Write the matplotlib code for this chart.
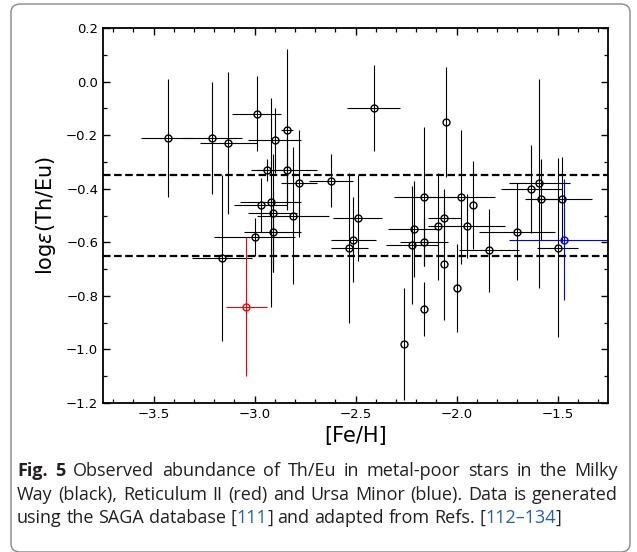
import numpy as np
import matplotlib
matplotlib.use('Agg')
import matplotlib.pyplot as plt
from matplotlib.patches import FancyBboxPatch

# Milky Way stars
feh = [-3.43, -3.21, -3.13, -3.16, -3.00, -2.99, -2.90, -2.84, -2.94, -2.84,
       -2.78, -2.97, -2.92, -2.91, -2.81, -2.91, -2.62, -2.41, -2.49, -2.51,
       -2.53, -2.26, -2.21, -2.22, -2.16, -2.16, -2.16, -2.09, -2.06, -2.06,
       -2.05, -2.00, -1.98, -1.95, -1.92, -1.84, -1.70, -1.63, -1.59, -1.58,
       -1.50, -1.48]
th_eu = [-0.21, -0.21, -0.23, -0.66, -0.58, -0.12, -0.22, -0.18, -0.33, -0.33,
         -0.38, -0.46, -0.45, -0.49, -0.50, -0.56, -0.37, -0.10, -0.51, -0.59,
         -0.62, -0.98, -0.55, -0.61, -0.43, -0.60, -0.85, -0.54, -0.51, -0.68,
         -0.15, -0.77, -0.43, -0.54, -0.46, -0.63, -0.56, -0.40, -0.38, -0.44,
         -0.62, -0.44]
feh_err = [0.13, 0.15, 0.14, 0.15, 0.20, 0.12, 0.13, 0.03, 0.075, 0.15,
           0.09, 0.13, 0.15, 0.12, 0.18, 0.14, 0.11, 0.13, 0.12, 0.11,
           0.09, 0.0, 0.13, 0.13, 0.15, 0.12, 0.0, 0.0, 0.08, 0.0,
           0.0, 0.0, 0.17, 0.19, 0.0, 0.15, 0.19, 0.15, 0.15, 0.08,
           0.10, 0.15]
th_eu_err = [0.22, 0.21, 0.265, 0.31, 0.07, 0.14, 0.12, 0.30, 0.04, 0.12,
             0.20, 0.10, 0.39, 0.22, 0.255, 0.15, 0.10, 0.16, 0.16, 0.16,
             0.28, 0.21, 0.18, 0.22, 0.26, 0.09, 0.10, 0.20, 0.11, 0.21,
             0.205, 0.165, 0.25, 0.12, 0.165, 0.155, 0.18, 0.165, 0.39, 0.15,
             0.335, 0.16]

# Reticulum II
ret_feh, ret_th, ret_feh_err, ret_th_err = [-3.04], [-0.84], [0.10], [0.26]
# Ursa Minor
umi_feh, umi_th, umi_feh_err, umi_th_err = [-1.47], [-0.59], [0.27], [0.225]

fig = plt.figure(figsize=(6.37, 5.52), dpi=100)
ax = fig.add_axes([0.1617, 0.2699, 0.7928, 0.6794])

ekw = dict(fmt='o', ms=5, mfc='none', mew=1.0, elinewidth=0.8, capsize=0)
ax.errorbar(feh, th_eu, xerr=feh_err, yerr=th_eu_err, color='black', mec='black', **ekw)
ax.errorbar(ret_feh, ret_th, xerr=ret_feh_err, yerr=ret_th_err, color='red', mec='red', **ekw)
ax.errorbar(umi_feh, umi_th, xerr=umi_feh_err, yerr=umi_th_err, color='blue', mec='blue', **ekw)

for yl in [-0.35, -0.65]:
    ax.axhline(yl, color='black', lw=1.6, ls=(0, (3.4, 1.6)))

ax.set_xlim(-3.75, -1.25)
ax.set_ylim(-1.2, 0.2)
ax.set_xticks([-3.5, -3.0, -2.5, -2.0, -1.5])
ax.set_xticks(np.arange(-3.7, -1.25, 0.1), minor=True)
ax.set_yticks(np.arange(-1.2, 0.21, 0.2))
ax.set_yticks(np.arange(-1.2, 0.21, 0.1), minor=True)
ax.tick_params(which='both', direction='in', top=True, right=True, labelsize=9.5)
ax.tick_params(which='major', length=5, width=1.0)
ax.tick_params(which='minor', length=3, width=0.9)
for s in ax.spines.values():
    s.set_linewidth(1.3)
ax.set_xlabel('[Fe/H]', fontsize=15, labelpad=4)
ax.set_ylabel(r'log$\epsilon$(Th/Eu)', fontsize=15, labelpad=6)

# rounded frame around figure + caption
box = FancyBboxPatch((11 / 637, 0.0), 619 / 637, 548 / 552, transform=fig.transFigure,
                     boxstyle='round,pad=0,rounding_size=0.015', fc='none', ec='#888888', lw=1.0)
fig.patches.append(box)

cap_col = '#231f20'
link_col = '#1f5fbf'
lines = [
    [('Fig. 5', cap_col, 'bold'), (' Observed abundance of Th/Eu in metal-poor stars in the Milky', cap_col, 'normal')],
    [('Way (black), Reticulum II (red) and Ursa Minor (blue). Data is generated', cap_col, 'normal')],
    [('using the SAGA database [', cap_col, 'normal'), ('111', link_col, 'normal'),
     ('] and adapted from Refs. [', cap_col, 'normal'), ('112\u2013134', link_col, 'normal'),
     (']', cap_col, 'normal')],
]
justify = [True, True, False]
ys = [471, 495, 518]
fsize = 13
renderer = fig.canvas.get_renderer()


def split_words(parts):
    words, cur = [], []
    for s, c, w in parts:
        for i, p in enumerate(s.split(' ')):
            if i > 0 and cur:
                words.append(cur)
                cur = []
            if p:
                cur.append((p, c, w))
    if cur:
        words.append(cur)
    return words


def make(s, c, w, x, y):
    return fig.text(x, y, s, color=c, fontweight=w, fontsize=fsize,
                    family='Open Sans', va='center', ha='left')


probe1 = make('a a', 'k', 'normal', 0, 0)
probe2 = make('aa', 'k', 'normal', 0, 0)
space = (probe1.get_window_extent(renderer).width - probe2.get_window_extent(renderer).width)
probe1.remove()
probe2.remove()

left, right = 17, 618
for parts, ypx, just in zip(lines, ys, justify):
    y = 1 - ypx / 552
    words = split_words(parts)
    texts = []
    total = 0
    for word in words:
        wt = []
        for s, c, w in word:
            t = make(s, c, w, 0, y)
            wd = t.get_window_extent(renderer).width
            wt.append((t, wd))
            total += wd
        texts.append(wt)
    gap = (right - left - total) / (len(words) - 1) if just else space
    x = left
    for wt in texts:
        for t, wd in wt:
            t.set_x(x / 637)
            x += wd
        x += gap

fig.savefig('out.png', dpi=100)
